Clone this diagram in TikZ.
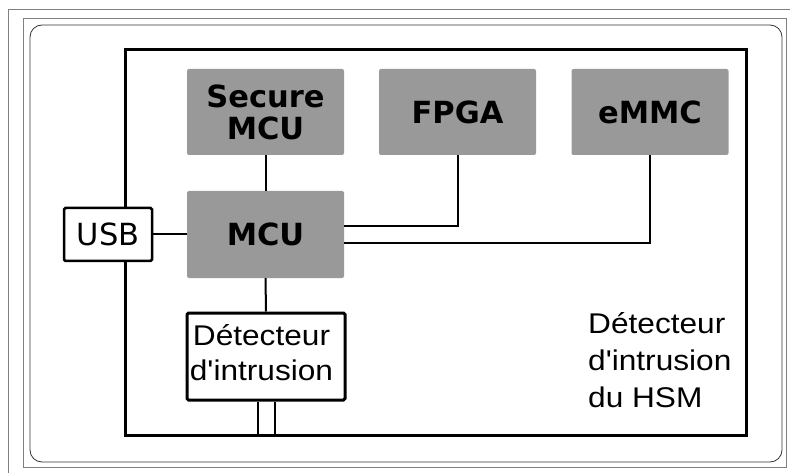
\documentclass[tikz,border=0pt]{standalone}
\usepackage{fontspec}
\newfontfamily\dejavu{DejaVu Sans}
\newfontfamily\libwide[FakeStretch=1.11]{Liberation Sans}
\begin{document}
\begin{tikzpicture}[x=1pt,y=-1pt,
  chip/.style={fill=black!40, rounded corners=2pt, minimum width=157pt, minimum height=86pt, inner sep=0pt, align=center, font=\dejavu\bfseries\fontsize{30.5}{32}\selectfont},
  conn/.style={line width=2pt},
  wbox/.style={draw, fill=white, rounded corners=1.5pt, inner sep=0pt},
  lbl/.style={inner sep=0pt, font=\libwide\fontsize{28.5}{37}\selectfont}
]
\useasboundingbox (0,0) rectangle (790,473);
% frames
\draw[black!50, line width=1pt] (8,10) -- (800,10);
\draw[black!50, line width=1pt] (8,10) -- (8,480);
\draw[black!50, line width=1pt] (23,19) rectangle (786,467);
\draw[black!80, line width=0.8pt, rounded corners=12pt] (30,25) rectangle (782,462);
% HSM frame
\node[draw, line width=3pt, minimum width=621pt, minimum height=385pt, inner sep=0pt] (hsm) at (435.5,242.5) {};
\node[lbl, anchor=base west, align=left] (hsmlbl) at (588,407) {Détecteur\\d'intrusion\\du HSM};
% chips
\node[chip] (sec) at (265.5,112) {Secure\\MCU};
\node[chip] (fpga) at (457.5,112) {FPGA};
\node[chip] (emmc) at (650,112) {eMMC};
\node[chip, minimum height=87pt] (mcu) at (265.5,234.5) {MCU};
\node[wbox, line width=2.5pt, minimum width=88pt, minimum height=53pt, font=\dejavu\fontsize{30.5}{32}\selectfont] (usb) at (108,234.5) {USB};
\node[wbox, line width=3pt, minimum width=158pt, minimum height=87pt] (det) at (266,356.5) {};
\node[lbl, anchor=base, align=center, font=\libwide\fontsize{28.5}{35}\selectfont] (dettxt) at (261.5,380) {Détecteur\\d'intrusion};
% connectors
\draw[conn] (sec.south) -- (mcu.north);
\draw[conn] ([yshift=8.5pt]mcu.east) -| (fpga.south);
\draw[conn] ([yshift=-8.5pt]mcu.east) -| (emmc.south);
\draw[conn] (usb.east) -- (mcu.west);
\draw[conn] (mcu.south) -- (det.north);
\draw[conn] ([xshift=-8.5pt]det.south) -- ([xshift=-8.5pt]det.south |- hsm.south);
\draw[conn] ([xshift=8.5pt]det.south) -- ([xshift=8.5pt]det.south |- hsm.south);
\end{tikzpicture}
\end{document}
